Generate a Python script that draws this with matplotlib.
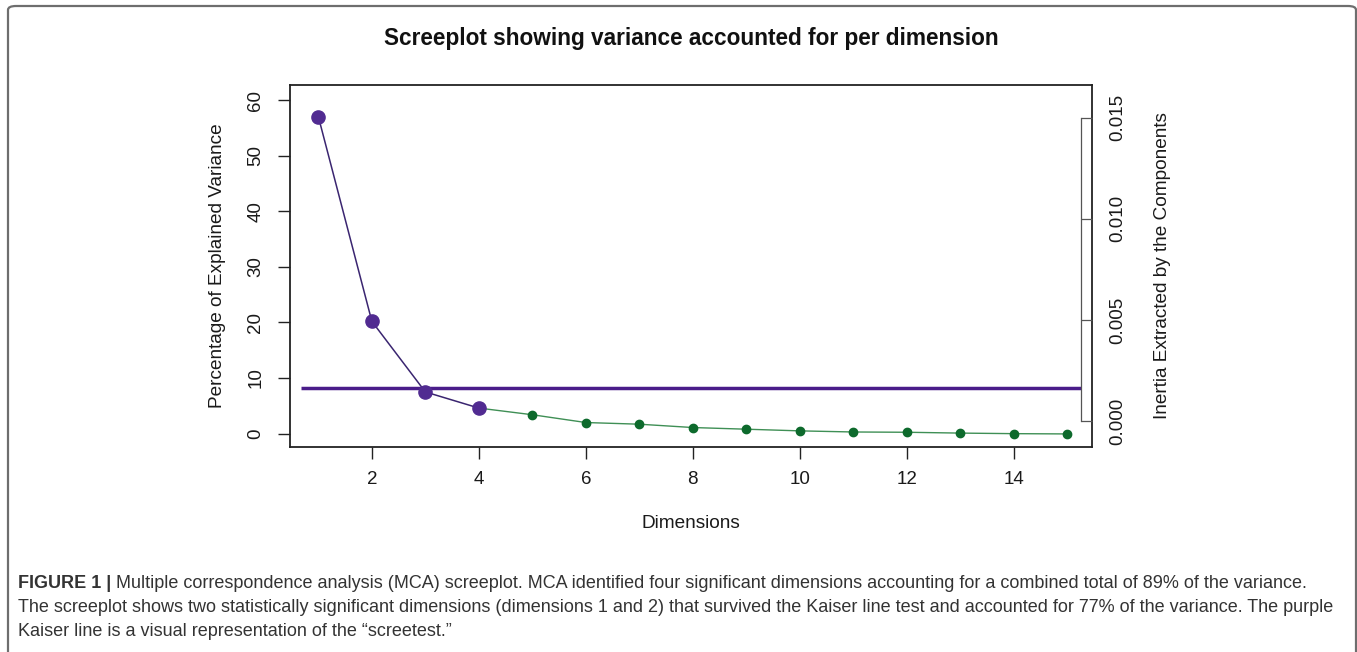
import matplotlib.pyplot as plt
from matplotlib.patches import FancyBboxPatch

# dados
dimensoes = [1, 2, 3, 4, 5, 6, 7, 8, 9, 10, 11, 12, 13, 14, 15]
variancia = [57.0, 20.2, 7.5, 4.6, 3.4, 2.0, 1.7, 1.1, 0.8, 0.5, 0.3, 0.25, 0.1, 0.0, -0.05]
n_significativas = 4
kaiser = 8.2
inercia_ticks = [0.000, 0.005, 0.010, 0.015]

roxo = '#512b91'
roxo_linha = '#3a2570'
verde = '#0d6a2c'
verde_linha = '#3f8f55'
texto = '#1a1a1a'

plt.rcParams['font.family'] = ['Liberation Sans', 'DejaVu Sans']

fig = plt.figure(figsize=(13.57, 6.52), dpi=100)

# moldura externa arredondada
moldura = FancyBboxPatch((8 / 1357, -0.05), 1348 / 1357, 1 - 6 / 652 + 0.05,
                         boxstyle='round,pad=0,rounding_size=0.006',
                         transform=fig.transFigure, facecolor='none',
                         edgecolor='#6e6e6e', linewidth=1.6, zorder=-5)
fig.patches.append(moldura)

ax = fig.add_axes([290 / 1357, 1 - 447 / 652, 802 / 1357, 362 / 652])
ax.set_facecolor('none')

k = n_significativas
ax.plot(dimensoes[k - 1:], variancia[k - 1:], color=verde_linha, lw=1.0, zorder=2)
ax.plot(dimensoes[:k], variancia[:k], color=roxo_linha, lw=1.1, zorder=3)
ax.plot(dimensoes[k:], variancia[k:], 'o', color=verde, ms=6, zorder=4)
ax.plot(dimensoes[:k], variancia[:k], 'o', color=roxo, ms=9.5, zorder=5)

ax.set_xlim(0.47, 15.46)
ax.set_ylim(-2.4, 62.7)
x0, x1 = ax.get_xlim()
# linha de Kaiser: do início da caixa até o eixo da direita
ax.hlines(kaiser, x0 + (x1 - x0) * 0.0137, x1 - (x1 - x0) * 0.0137,
          color='#4a1d8a', lw=2.5, zorder=1)

ax.set_xticks([2, 4, 6, 8, 10, 12, 14])
ax.set_yticks([0, 10, 20, 30, 40, 50, 60])
ax.tick_params(axis='both', length=8.5, width=1.0, color='#222222',
               labelsize=13.5, labelcolor=texto)
ax.tick_params(axis='x', pad=9)
ax.tick_params(axis='y', pad=10)
for lbl in ax.get_yticklabels():
    lbl.set_rotation(90)
    lbl.set_va('center')
for s in ax.spines.values():
    s.set_linewidth(1.3)
    s.set_color('#222222')

ax.set_xlabel('Dimensions', fontsize=13.7, color=texto, labelpad=19)
ax.set_ylabel('Percentage of Explained Variance', fontsize=13.7, color=texto, labelpad=15)

# eixo da direita (inércia), desenhado por dentro da caixa
ax2 = ax.twinx()
ax2.set_ylim(-0.00129, 0.01663)
ax2.set_yticks(inercia_ticks)
ax2.set_yticklabels(['0.000', '0.005', '0.010', '0.015'])
for nome in ['left', 'top', 'bottom']:
    ax2.spines[nome].set_visible(False)
ax2.spines['right'].set_position(('axes', 791 / 802))
ax2.spines['right'].set_bounds(inercia_ticks[0], inercia_ticks[-1])
ax2.spines['right'].set_color('#555555')
ax2.spines['right'].set_linewidth(0.9)
ax2.tick_params(axis='y', length=8, width=0.9, color='#555555',
                labelsize=13.5, labelcolor=texto, pad=12)
for lbl in ax2.get_yticklabels():
    lbl.set_rotation(90)
    lbl.set_va('center')
ax2.set_ylabel('Inertia Extracted by the Components', fontsize=13.7,
               color=texto, labelpad=20)

fig.text(691 / 1357, 1 - 38 / 652, 'Screeplot showing variance accounted for per dimension',
         ha='center', va='center', fontsize=16.3, fontweight='bold', color='#111111')

# legenda da figura
cap_cor = '#333333'
cap_fs = 13
negrito = fig.text(18 / 1357, 1 - 583 / 652, 'FIGURE 1 |', fontsize=cap_fs, fontweight='bold',
                   color=cap_cor, va='center', ha='left')
fig.canvas.draw()
bb = negrito.get_window_extent()
fig.text((bb.x1 + 5) / 1357, 1 - 583 / 652,
         'Multiple correspondence analysis (MCA) screeplot. MCA identified four significant '
         'dimensions accounting for a combined total of 89% of the variance.',
         fontsize=cap_fs, color=cap_cor, va='center', ha='left')
fig.text(18 / 1357, 1 - 607 / 652,
         'The screeplot shows two statistically significant dimensions (dimensions 1 and 2) that '
         'survived the Kaiser line test and accounted for 77% of the variance. The purple',
         fontsize=cap_fs, color=cap_cor, va='center', ha='left')
fig.text(18 / 1357, 1 - 631 / 652,
         'Kaiser line is a visual representation of the \u201cscreetest.\u201d',
         fontsize=cap_fs, color=cap_cor, va='center', ha='left')

fig.savefig('out.png', dpi=100)
